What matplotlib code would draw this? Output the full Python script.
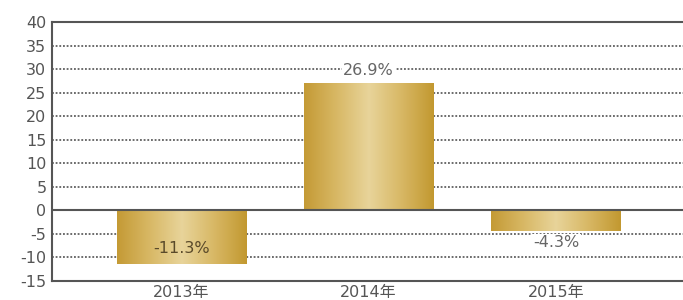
import numpy as np
import matplotlib.pyplot as plt
from matplotlib.colors import LinearSegmentedColormap

plt.rcParams['font.family'] = ['DejaVu Sans', 'Noto Sans CJK SC']
plt.rcParams['axes.unicode_minus'] = False

years = ["2013年", "2014年", "2015年"]
growth = [-11.3, 26.9, -4.3]
labels = ["-11.3%", "26.9%", "-4.3%"]
yticks = [40, 35, 30, 25, 20, 15, 10, 5, 0, -5, -10, -15]

fig = plt.figure(figsize=(6.83, 3.0), dpi=100)
ax = fig.add_axes([0.0761, 0.0633, 0.93, 0.8634])

x = np.arange(len(years))
bars = ax.bar(x, growth, width=0.69, color='none', edgecolor='none', zorder=3)

# gold gradient, dark at the edges, light in the middle
gold = LinearSegmentedColormap.from_list(
    "gold", ["#c49a35", "#d8b865", "#e8d49a", "#d8b865", "#c29830"])
grad = np.linspace(0, 1, 256).reshape(1, -1)
for b in bars:
    x0, y0 = b.get_x(), b.get_y()
    w, h = b.get_width(), b.get_height()
    ax.imshow(grad, cmap=gold, aspect='auto', zorder=3,
              extent=(x0, x0 + w, y0, y0 + h))

ax.set_xlim(-0.69, 2.70)
ax.set_ylim(-15, 40)

# dotted grid, solid zero line
for t in yticks:
    if t in (40, 0, -15):
        continue
    ax.axhline(t, color='#444444', lw=1.1, ls=(0, (1.2, 1.2)), zorder=1)
ax.axhline(0, color='#555555', lw=1.5, zorder=4)

ax.set_yticks(yticks)
ax.set_xticks(x)
ax.set_xticklabels(years)
ax.tick_params(length=0, labelsize=11.5, colors='#555555', pad=4)
ax.tick_params(axis='x', pad=3)
for s in ax.spines.values():
    s.set_color('#555555')
    s.set_linewidth(1.5)
ax.spines['right'].set_visible(False)

# value labels
ax.text(x[1], growth[1] + 2.9, labels[1], ha='center', va='center',
        fontsize=11.5, color='#666666', zorder=5,
        bbox=dict(facecolor='white', edgecolor='none', pad=1))
ax.text(x[0], growth[0] + 3.1, labels[0], ha='center', va='center',
        fontsize=11.5, color='#5a4a2a', zorder=5)
ax.text(x[2], growth[2] - 2.6, labels[2], ha='center', va='center',
        fontsize=11.5, color='#666666', zorder=5,
        bbox=dict(facecolor='white', edgecolor='none', pad=1))

fig.savefig("out.png", dpi=100)
